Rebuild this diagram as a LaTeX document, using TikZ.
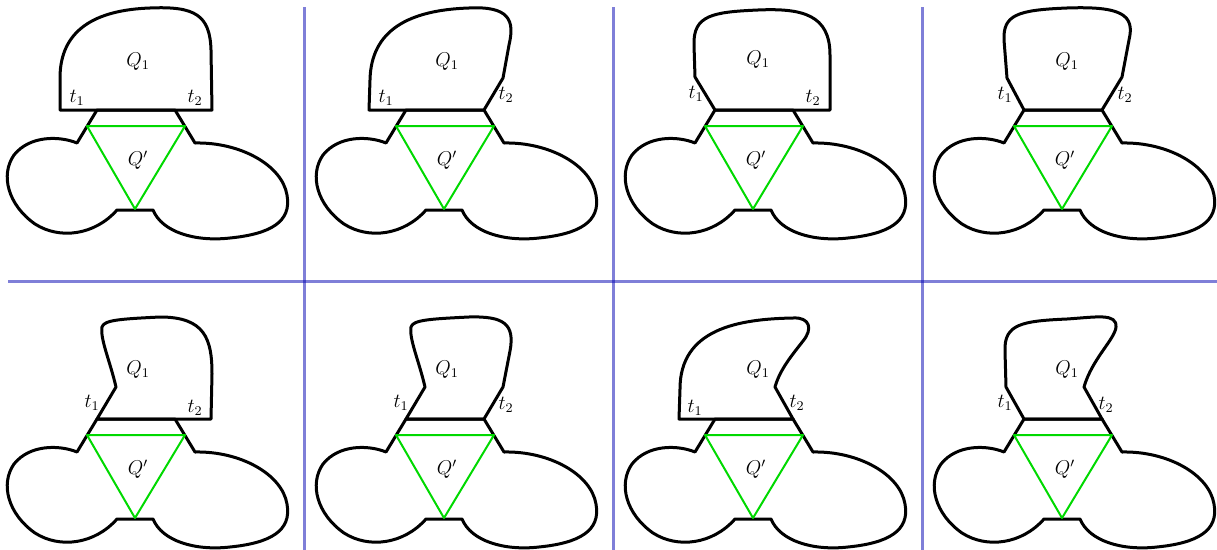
\documentclass[tikz,border=0pt]{standalone}
\usepackage{amsmath}
\usepackage{tikz}
\usepackage{xcolor}

\tikzset{
  outline/.style={line width=1.8pt, line join=round},
  inner/.style={line width=1.2pt, green!85!black, line join=round},
  sep/.style={line width=1.8pt, blue!70!black, opacity=0.5},
}

% lower part, the same in every panel
\newcommand{\lobes}[1]{%
  \draw[outline] (97,110) -- (77,143) .. controls (60,136) and (30,135) .. (14,155)
    .. controls (0,175) and (8,205) .. (35,224) .. controls (60,240) and (95,235) .. (117,210)
    -- (153,210) .. controls (162,232) and (195,242) .. (230,238)
    .. controls (270,234) and (292,222) .. (287,195)
    .. controls (282,165) and (240,142) .. (195,143) -- (175,110) -- cycle;
  \draw[inner] (87,126) -- (185,126) -- (135,209) -- cycle;
  \node (qp-#1) at (138,160) {$Q'$};
}

\begin{document}
\begin{tikzpicture}[x=0.6pt, y=-0.6pt, every node/.style={font=\large}]
  \useasboundingbox (0,0) rectangle (1217,550);

  \draw[sep] (8,281) -- (1217,281);
  \foreach \xs in {304,613,922}
    \draw[sep] (\xs,7) -- (\xs,550);

  % top row
  \begin{scope}
    \lobes{1}
    \draw[outline] (60,110) -- (60,78) .. controls (60,30) and (95,10) .. (150,8)
      .. controls (195,6) and (210,15) .. (211,50) -- (212,110) -- cycle;
    \node (q1-1) at (138,62) {$Q_1$};
    \node (t1-1) at (77,98) {$t_1$};
    \node (t2-1) at (195,98) {$t_2$};
  \end{scope}

  \begin{scope}[shift={(309,0)}]
    \lobes{2}
    \draw[outline] (175,110) -- (60,110) -- (61,80) .. controls (62,30) and (100,10) .. (160,8)
      .. controls (200,6) and (206,20) .. (200,45) -- (194,78) -- cycle;
    \node (q1-2) at (138,62) {$Q_1$};
    \node (t1-2) at (77,98) {$t_1$};
    \node (t2-2) at (197,95) {$t_2$};
  \end{scope}

  \begin{scope}[shift={(618,0)}]
    \lobes{3}
    \draw[outline] (97,110) -- (77,77) -- (76,45) .. controls (75,15) and (95,12) .. (140,10)
      .. controls (185,8) and (212,15) .. (212,55) -- (212,110) -- cycle;
    \node (q1-3) at (140,60) {$Q_1$};
    \node (t1-3) at (78,94) {$t_1$};
    \node (t2-3) at (195,98) {$t_2$};
  \end{scope}

  \begin{scope}[shift={(927,0)}]
    \lobes{4}
    \draw[outline] (97,110) -- (80,78) -- (77,40) .. controls (76,15) and (90,10) .. (140,8)
      .. controls (195,6) and (208,15) .. (202,40) -- (195,77) -- (175,110) -- cycle;
    \node (q1-4) at (140,62) {$Q_1$};
    \node (t1-4) at (78,95) {$t_1$};
    \node (t2-4) at (198,95) {$t_2$};
  \end{scope}

  % bottom row
  \begin{scope}[shift={(0,309)}]
    \lobes{5}
    \draw[outline] (97,110) -- (116,78) .. controls (110,52) and (100,30) .. (102,18)
      .. controls (104,11) and (120,10) .. (160,8)
      .. controls (205,8) and (212,30) .. (212,65) -- (211,110) -- cycle;
    \node (q1-5) at (138,61) {$Q_1$};
    \node (t1-5) at (92,94) {$t_1$};
    \node (t2-5) at (195,99) {$t_2$};
  \end{scope}

  \begin{scope}[shift={(309,309)}]
    \lobes{6}
    \draw[outline] (97,110) -- (116,78) .. controls (110,52) and (100,30) .. (102,18)
      .. controls (104,11) and (120,10) .. (160,8)
      .. controls (195,7) and (206,15) .. (201,42) -- (194,78) -- (175,110) -- cycle;
    \node (q1-6) at (138,61) {$Q_1$};
    \node (t1-6) at (92,94) {$t_1$};
    \node (t2-6) at (197,96) {$t_2$};
  \end{scope}

  \begin{scope}[shift={(618,309)}]
    \lobes{7}
    \draw[outline] (175,110) -- (157,78) .. controls (162,60) and (175,45) .. (185,32)
      .. controls (195,20) and (192,8) .. (175,9)
      .. controls (120,10) and (62,20) .. (62,80) -- (61,110) -- cycle;
    \node (q1-7) at (140,61) {$Q_1$};
    \node (t1-7) at (77,99) {$t_1$};
    \node (t2-7) at (179,94) {$t_2$};
  \end{scope}

  \begin{scope}[shift={(927,309)}]
    \lobes{8}
    \draw[outline] (97,110) -- (79,78) -- (78,42) .. controls (77,15) and (95,12) .. (140,10)
      .. controls (170,8) and (190,4) .. (189,18)
      .. controls (188,30) and (165,50) .. (157,78) -- (175,110) -- cycle;
    \node (q1-8) at (140,61) {$Q_1$};
    \node (t1-8) at (78,94) {$t_1$};
    \node (t2-8) at (179,96) {$t_2$};
  \end{scope}
\end{tikzpicture}
\end{document}
